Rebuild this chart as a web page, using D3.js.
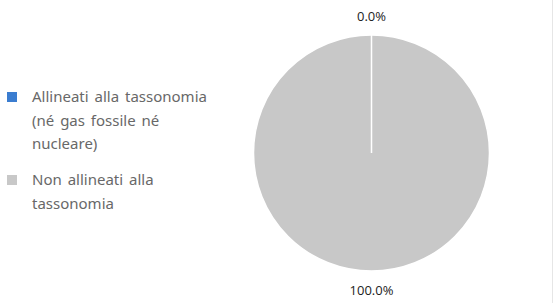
<!DOCTYPE html>
<html>
<head>
<meta charset="utf-8">
<script src="https://cdn.jsdelivr.net/npm/d3@7"></script>
<style>
  body { margin: 0; background: #fff; }
  svg { display: block; }
</style>
</head>
<body>
<svg id="chart" width="553" height="303"></svg>
<script>
const categories = [
  ["Allineati alla tassonomia", "(né gas fossile né", "nucleare)"],
  ["Non allineati alla", "tassonomia"]
];
const values = [0.0, 100.0];
const colors = ["#3b7dd0", "#c8c8c8"];

const width = 553,
  height = 303,
  cx = 371.5,
  cy = 153,
  radius = 118,
  labelRadius = 137;

const svg = d3.select("#chart");

// right border
svg.append("line")
  .attr("x1", 552.5).attr("x2", 552.5)
  .attr("y1", 0).attr("y2", height)
  .attr("stroke", "#e6e6e6");

const pie = d3.pie().sort(null).value(d => d);
const arcs = pie(values);
const arc = d3.arc().innerRadius(0).outerRadius(radius);
const labelArc = d3.arc().innerRadius(labelRadius).outerRadius(labelRadius);

const g = svg.append("g").attr("transform", `translate(${cx},${cy})`);

// draw the full slice first, then the empty one on top so its edge shows
g.selectAll("path.slice")
  .data(arcs.slice().reverse())
  .enter()
  .append("path")
  .attr("class", "slice")
  .attr("d", arc)
  .attr("fill", d => colors[d.index])
  .attr("stroke", "#fff")
  .attr("stroke-width", 1.5);

g.selectAll("text.pct")
  .data(arcs)
  .enter()
  .append("text")
  .attr("class", "pct")
  .attr("transform", d => `translate(${labelArc.centroid(d)})`)
  .attr("text-anchor", "middle")
  .attr("dy", "0.35em")
  .attr("font-family", "'Open Sans', sans-serif")
  .attr("font-size", 13)
  .attr("fill", "#222")
  .text(d => d3.format(".1f")(d.data) + "%");

// legend
const legendTop = [97, 180],
  lineHeight = 23.5;

const legend = svg.append("g").attr("class", "legend");
const items = legend.selectAll("g.item")
  .data(categories)
  .enter()
  .append("g")
  .attr("class", "item")
  .attr("transform", (d, i) => `translate(0,${legendTop[i]})`);

items.append("rect")
  .attr("x", 7)
  .attr("y", -5)
  .attr("width", 10)
  .attr("height", 10)
  .attr("fill", (d, i) => colors[i]);

items.append("text")
  .attr("font-family", "'Noto Sans', sans-serif")
  .attr("font-size", 15)
  .attr("word-spacing", 2)
  .attr("fill", "#686868")
  .selectAll("tspan")
  .data(d => d)
  .enter()
  .append("tspan")
  .attr("x", 32)
  .attr("y", (d, i) => i * lineHeight)
  .attr("dy", "0.35em")
  .text(d => d);
</script>
</body>
</html>
